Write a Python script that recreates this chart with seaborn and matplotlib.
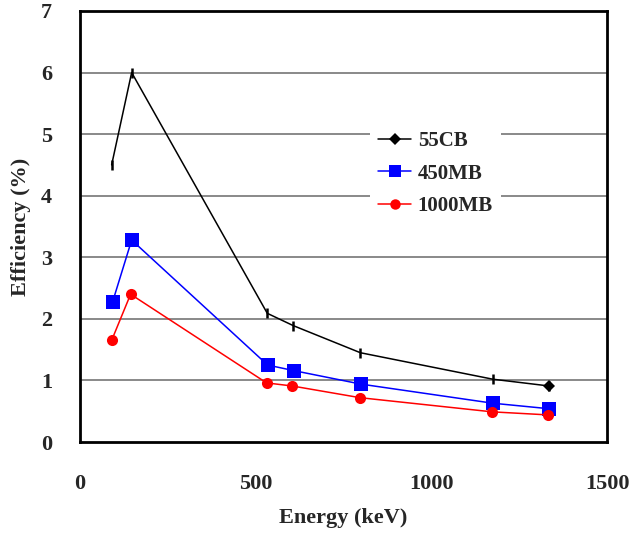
import pandas as pd
import seaborn as sns
import matplotlib
matplotlib.use('Agg')
from matplotlib import pyplot as plt
from matplotlib.lines import Line2D

# Datos.
energia_55cb = [90, 147, 533, 607, 798, 1175, 1335]
eff_55cb = [4.5, 6.0, 2.09, 1.89, 1.45, 1.02, 0.91]
energia_450mb = [93, 147, 534, 608, 800, 1175, 1336]
eff_450mb = [2.28, 3.28, 1.25, 1.16, 0.94, 0.63, 0.54]
energia_1000mb = [90, 144, 531, 604, 797, 1173, 1333]
eff_1000mb = [1.65, 2.40, 0.96, 0.91, 0.72, 0.49, 0.44]

series = ['55CB', '450MB', '1000MB']
colores = {'55CB': 'black', '450MB': '#0000ff', '1000MB': '#ff0000'}

df = pd.concat([
    pd.DataFrame({'E': energia_55cb, 'eff': eff_55cb, 'det': '55CB'}),
    pd.DataFrame({'E': energia_450mb, 'eff': eff_450mb, 'det': '450MB'}),
    pd.DataFrame({'E': energia_1000mb, 'eff': eff_1000mb, 'det': '1000MB'}),
])

sns.set_style('white')
plt.rcParams['font.family'] = ['Liberation Serif', 'DejaVu Serif']
plt.rcParams['font.weight'] = 'bold'

fig = plt.figure(figsize=(6.33, 5.33), dpi=100)
ax = fig.add_axes([0.1264, 0.1707, 0.8326, 0.8087])

for y in range(1, 7):
    ax.axhline(y, color='#808080', lw=1.3, zorder=0)

sns.lineplot(data=df[df.det != '55CB'], x='E', y='eff', hue='det', style='det',
             palette=colores, markers={'450MB': 's', '1000MB': 'o'},
             dashes=False, lw=1.1, markeredgewidth=0, legend=False, ax=ax,
             sort=False)
# tamanos de marcadores
for ln in ax.get_lines()[6:]:
    if ln.get_marker() == 's':
        ln.set_markersize(9.5)
    elif ln.get_marker() == 'o':
        ln.set_markersize(8)

sub = df[df.det == '55CB']
sns.lineplot(data=sub, x='E', y='eff', color='black', lw=1.1, marker='|',
             markersize=7, markeredgewidth=1.8, markeredgecolor='black',
             legend=False, ax=ax, sort=False)
ult = sub.iloc[[-1]]
ax.plot(ult.E, ult.eff, 'D', color='black', markersize=6.5, markeredgewidth=0)

ax.set_xlim(0, 1500)
ax.set_ylim(0, 7)
ax.set_xticks([0, 500, 1000, 1500])
ax.set_yticks(range(8))
ax.tick_params(direction='in', length=5, width=1.2, labelsize=16, color='black')
ax.tick_params(axis='y', pad=20)
ax.tick_params(axis='x', pad=23)
ax.set_xlabel('Energy (keV)', fontsize=16, fontweight='bold', labelpad=10)
ax.set_ylabel('Efficiency (%)', fontsize=16, fontweight='bold', labelpad=7)
for s in ax.spines.values():
    s.set_visible(True)
    s.set_color('black')
    s.set_linewidth(2)

handles = [
    Line2D([], [], color='black', marker='D', markersize=6, lw=1.1, markeredgewidth=0),
    Line2D([], [], color='#0000ff', marker='s', markersize=9, lw=1.1, markeredgewidth=0),
    Line2D([], [], color='#ff0000', marker='o', markersize=7.5, lw=1.1, markeredgewidth=0),
]
leg = ax.legend(handles, series, loc='upper left', bbox_to_anchor=(0.53, 0.765),
                frameon=True, fontsize=15, handlelength=1.6, handletextpad=0.3,
                labelspacing=0.6, borderpad=0.4)
leg.get_frame().set_edgecolor('none')
leg.get_frame().set_facecolor('white')
leg.get_frame().set_alpha(1)
leg.get_frame().set_boxstyle('square', pad=0)
for t in leg.get_texts():
    t.set_fontweight('bold')

fig.savefig('out.png', dpi=100)
